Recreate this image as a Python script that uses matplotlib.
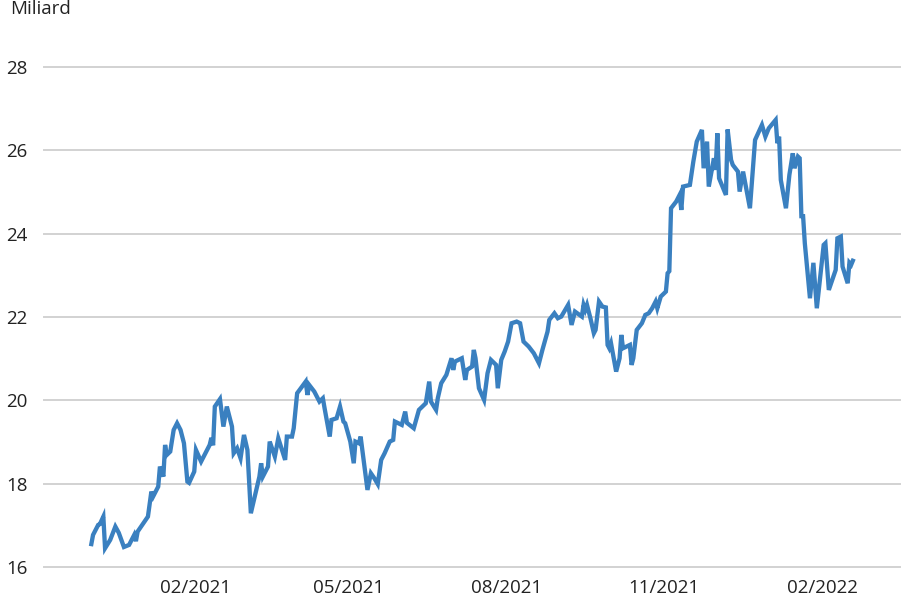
import numpy as np
import pandas as pd
import matplotlib.pyplot as plt
import matplotlib.dates as mdates

plt.rcParams['font.family'] = ['Open Sans', 'DejaVu Sans']

# days counted from 1 Dec 2020, values in billions
days = [1, 2, 5, 6, 8, 9, 12, 15, 17, 20, 23, 26, 27, 28, 34, 36, 37, 40, 41, 43,
        44, 45, 47, 49, 51, 53, 55, 57, 58, 61, 62, 65, 70, 71, 72, 73, 76, 78, 80, 83,
        84, 86, 88, 90, 92, 94, 99, 100, 101, 104, 105, 108, 110, 114, 115, 118, 119, 121, 126, 127,
        128, 131, 134, 136, 137, 140, 141, 144, 146, 148, 149, 152, 154, 155, 157, 158, 159, 162, 164, 166,
        168, 170, 172, 175, 177, 178, 182, 184, 185, 189, 192, 196, 198, 199, 202, 203, 205, 208, 211, 212,
        213, 217, 219, 220, 223, 224, 225, 227, 230, 232, 234, 237, 238, 240, 242, 244, 246, 249, 251, 253,
        256, 259, 262, 264, 267, 268, 271, 273, 275, 279, 281, 283, 287, 288, 289, 290, 292, 294, 295, 297,
        299, 301, 302, 303, 304, 307, 309, 310, 311, 313, 315, 316, 317, 319, 322, 324, 326, 328, 330, 331,
        333, 336, 337, 338, 339, 342, 344, 345, 346, 350, 352, 354, 357, 358, 360, 361, 364, 365, 366, 367,
        371, 372, 374, 375, 378, 379, 381, 385, 388, 392, 394, 396, 400, 401, 402, 403, 406, 408, 410, 411,
        413, 414, 415, 416, 417, 420, 422, 424, 428, 429, 431, 435, 436, 438, 439, 442, 443, 444, 445]
values = [16.55, 16.77, 17.01, 17.03, 17.21, 16.45, 16.65, 16.97, 16.82, 16.48, 16.53, 16.77, 16.62, 16.85, 17.21, 17.81, 17.69, 17.93, 18.41, 18.17,
          18.93, 18.69, 18.77, 19.29, 19.45, 19.29, 18.97, 18.05, 18.02, 18.29, 18.81, 18.53, 18.93, 19.10, 18.92, 19.85, 20.03, 19.37, 19.85, 19.37,
          18.73, 18.85, 18.61, 19.17, 18.81, 17.29, 18.17, 18.49, 18.17, 18.41, 19.01, 18.65, 19.09, 18.57, 19.13, 19.13, 19.33, 20.17, 20.45, 20.13,
          20.37, 20.21, 19.97, 20.05, 19.81, 19.13, 19.53, 19.57, 19.85, 19.49, 19.45, 19.01, 18.49, 19.01, 18.97, 19.13, 18.81, 17.85, 18.25, 18.13,
          17.99, 18.57, 18.73, 19.01, 19.05, 19.49, 19.41, 19.73, 19.46, 19.33, 19.77, 19.93, 20.45, 19.97, 19.77, 20.05, 20.41, 20.61, 21.01, 20.73,
          20.93, 21.01, 20.49, 20.73, 20.81, 21.21, 21.01, 20.29, 20.01, 20.65, 20.97, 20.85, 20.29, 20.97, 21.17, 21.41, 21.85, 21.89, 21.85, 21.41,
          21.29, 21.13, 20.89, 21.21, 21.65, 21.93, 22.09, 21.97, 22.01, 22.29, 21.81, 22.13, 22.01, 22.29, 22.17, 22.29, 21.97, 21.61, 21.69, 22.37,
          22.25, 22.23, 21.33, 21.25, 21.37, 20.69, 21.01, 21.57, 21.25, 21.29, 21.33, 20.85, 21.01, 21.69, 21.85, 22.05, 22.09, 22.21, 22.37, 22.21,
          22.49, 22.61, 23.05, 23.10, 24.61, 24.77, 24.93, 24.57, 25.13, 25.17, 25.73, 26.21, 26.49, 25.57, 26.21, 25.13, 25.81, 25.53, 26.41, 25.33,
          24.93, 26.50, 25.77, 25.65, 25.49, 25.01, 25.49, 24.61, 26.25, 26.61, 26.33, 26.53, 26.73, 26.17, 26.33, 25.29, 24.61, 25.41, 25.93, 25.57,
          25.85, 25.81, 24.42, 24.42, 23.77, 22.45, 23.30, 22.21, 23.73, 23.77, 22.65, 23.13, 23.89, 23.93, 23.21, 22.81, 23.30, 23.25, 23.35]
yticks = [16, 18, 20, 22, 24, 26, 28]
xticks = ['2021-02-01', '2021-05-01', '2021-08-01', '2021-11-01', '2022-02-01']
unit_label = 'Miliard'

start = pd.Timestamp('2020-12-01')
dates = start + pd.to_timedelta(days, unit='D')

fig = plt.figure(figsize=(9.1, 5.96), dpi=100)
ax = fig.add_axes([44 / 910, 1 - 567 / 596, 856 / 910, 500 / 596])

ax.plot(dates, values, color='#3a80c0', linewidth=3.1, solid_joinstyle='miter')

ax.set_ylim(16, 28)
ax.set_xlim(start - pd.Timedelta(days=26.6), start + pd.Timedelta(days=472.5))
ax.set_yticks(yticks)
ax.set_xticks(pd.to_datetime(xticks))
ax.xaxis.set_major_formatter(mdates.DateFormatter('%m/%Y'))

ax.grid(axis='y', color='#d2d2d2', linewidth=1.4)
ax.set_axisbelow(True)
for gl in ax.get_ygridlines():
    gl.set_clip_on(False)
for s in ax.spines.values():
    s.set_visible(False)
ax.tick_params(axis='both', length=0, labelsize=13.5, colors='#222222')
ax.tick_params(axis='y', pad=12)
ax.tick_params(axis='x', pad=8.5)

# unit label sits at the very top edge, as in the source
fig.text(10 / 910, 1.0, unit_label, fontsize=13.5, color='#222222', ha='left', va='top')

fig.savefig('out.png', dpi=100)
